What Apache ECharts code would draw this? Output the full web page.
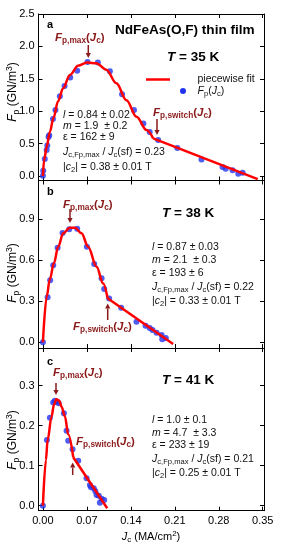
<!DOCTYPE html>
<html><head><meta charset="utf-8">
<script src="https://cdn.jsdelivr.net/npm/echarts@6/dist/echarts.min.js"></script>
<style>html,body{margin:0;padding:0;background:#fff}#c{width:282px;height:550px}</style>
</head><body><div id="c"></div>
<script>
// ---------- data ----------
const xTicks = [0, 0.07, 0.14, 0.21, 0.28, 0.35];
const yTicksA = [0, 0.5, 1.0, 1.5, 2.0, 2.5];
const yTicksB = [0, 0.3, 0.6, 0.9];
const yTicksC = [0, 0.1, 0.2, 0.3];

// Panel a, T = 35 K
const jcA = [0, 0.0005, 0.003, 0.006, 0.007, 0.009, 0.010, 0.016, 0.020, 0.027, 0.0345, 0.0435, 0.0546, 0.071, 0.0875, 0.1066, 0.126, 0.145, 0.160, 0.170, 0.1835, 0.214, 0.2525, 0.286, 0.291, 0.302, 0.311, 0.318];
const fpA = [0.005, 0.08, 0.26, 0.40, 0.47, 0.60, 0.63, 0.88, 1.02, 1.23, 1.39, 1.52, 1.625, 1.76, 1.75, 1.615, 1.26, 1.02, 0.81, 0.68, 0.555, 0.43, 0.255, 0.14, 0.11, 0.09, 0.035, 0.05];
const fitCurveJcA = [0, 0.002, 0.006, 0.011, 0.017, 0.024, 0.032, 0.043, 0.056, 0.0705, 0.085, 0.101, 0.117, 0.133, 0.149, 0.165, 0.1755];
const fitCurveFpA = [0, 0.25, 0.45, 0.68, 0.90, 1.15, 1.35, 1.56, 1.70, 1.75, 1.74, 1.64, 1.43, 1.17, 0.915, 0.71, 0.58];
const fitLineJcA = [0.1755, 0.342];
const fitLineFpA = [0.58, -0.05];

// Panel b, T = 38 K
const jcB = [0, 0.0075, 0.0116, 0.0164, 0.0234, 0.0313, 0.0419, 0.0546, 0.070, 0.0817, 0.0934, 0.0976, 0.1055, 0.1246, 0.149, 0.1634, 0.170, 0.1745, 0.181, 0.189, 0.190, 0.1957];
const fpB = [0, 0.33, 0.454, 0.563, 0.692, 0.80, 0.827, 0.831, 0.70, 0.573, 0.468, 0.39, 0.32, 0.253, 0.151, 0.121, 0.105, 0.09, 0.07, 0.053, 0.022, 0.031];
const fitCurveJcB = [0, 0.006, 0.011, 0.0175, 0.0244, 0.0323, 0.043, 0.051, 0.0615, 0.072, 0.0854, 0.096, 0.103];
const fitCurveFpB = [0, 0.334, 0.46, 0.578, 0.70, 0.797, 0.838, 0.838, 0.797, 0.70, 0.553, 0.43, 0.322];
const fitLineJcB = [0.103, 0.2073];
const fitLineFpB = [0.322, -0.012];

// Panel c, T = 41 K
const jcC = [0, 0.0064, 0.0111, 0.0164, 0.019, 0.0228, 0.025, 0.0334, 0.0377, 0.0403, 0.0472, 0.0562, 0.0695, 0.0748, 0.0765, 0.081, 0.0835, 0.0854, 0.089, 0.0907, 0.0934, 0.0976];
const fpC = [0, 0.164, 0.22, 0.258, 0.262, 0.26, 0.256, 0.231, 0.1875, 0.1625, 0.141, 0.1125, 0.0685, 0.052, 0.046, 0.0435, 0.036, 0.027, 0.025, 0.0075, 0.0175, 0.014];
const fitCurveJcC = [0, 0.0048, 0.0075, 0.0138, 0.0175, 0.0215, 0.026, 0.0297, 0.035, 0.0403, 0.0483];
const fitCurveFpC = [0, 0.114, 0.164, 0.2225, 0.252, 0.266, 0.2625, 0.2475, 0.2235, 0.1785, 0.121];
const fitLineJcC = [0.0483, 0.1024];
const fitLineFpC = [0.121, -0.0065];

// ---------- layout / style ----------
const FF = '"Liberation Sans", Arial, sans-serif';
const DR = '#8b1a1a';
const RED = '#ff0000';
const BLUE = '#2233ee';
const zip = (a, b) => a.map((v, i) => [v, b[i]]);

const grids = [
  {left: 38.5, top: 14, width: 225.5, height: 166.5},
  {left: 38.5, top: 180.5, width: 225.5, height: 167.5},
  {left: 38.5, top: 348, width: 225.5, height: 162.7}
];
const yRanges = [[-0.07, 2.5], [-0.042, 1.184], [-0.0125, 0.394]];
const yTicks = [yTicksA, yTicksB, yTicksC];
const panels = [
  {jc: jcA, fp: fpA, cj: fitCurveJcA, cf: fitCurveFpA, lj: fitLineJcA, lf: fitLineFpA},
  {jc: jcB, fp: fpB, cj: fitCurveJcB, cf: fitCurveFpB, lj: fitLineJcB, lf: fitLineFpB},
  {jc: jcC, fp: fpC, cj: fitCurveJcC, cf: fitCurveFpC, lj: fitLineJcC, lf: fitLineFpC}
];

const xAxes = [], yAxes = [], series = [];
const lineStyle = {color: '#000', width: 1};
panels.forEach((p, i) => {
  [ 'bottom', 'top' ].forEach(pos => {
    xAxes.push({
      gridIndex: i, type: 'value', position: pos, min: -0.007, max: 0.352,
      axisLine: {show: true, onZero: false, lineStyle},
      axisTick: {show: true, inside: true, length: 4, lineStyle, customValues: xTicks},
      axisLabel: {show: pos === 'bottom' && i === 2, customValues: xTicks, margin: 5,
        formatter: v => v.toFixed(2), color: '#000', fontSize: 11, fontFamily: FF},
      splitLine: {show: false}
    });
  });
  [ 'left', 'right' ].forEach(pos => {
    yAxes.push({
      gridIndex: i, type: 'value', position: pos, min: yRanges[i][0], max: yRanges[i][1],
      axisLine: {show: true, onZero: false, lineStyle},
      axisTick: {show: true, inside: true, length: 4, lineStyle, customValues: yTicks[i]},
      axisLabel: {show: pos === 'left', customValues: yTicks[i], margin: 4,
        formatter: v => v.toFixed(1), color: '#000', fontSize: 11, fontFamily: FF},
      splitLine: {show: false}
    });
  });
  series.push({
    type: 'scatter', xAxisIndex: i * 2, yAxisIndex: i * 2, data: zip(p.jc, p.fp),
    symbolSize: 6, itemStyle: {color: BLUE}, z: 2, silent: true
  });
  series.push({
    type: 'line', xAxisIndex: i * 2, yAxisIndex: i * 2, data: zip(p.cj, p.cf),
    smooth: 0.35, smoothMonotone: 'x', showSymbol: false, lineStyle: {color: RED, width: 2.5}, z: 3, silent: true
  });
  series.push({
    type: 'line', xAxisIndex: i * 2, yAxisIndex: i * 2, data: zip(p.lj, p.lf),
    showSymbol: false, lineStyle: {color: RED, width: 2.5}, z: 3, silent: true
  });
});

// ---------- text helpers ----------
function rich(fs, color, weight) {
  const base = {fontSize: fs, fontFamily: FF, fill: color, color: color, fontWeight: weight || 'normal', lineHeight: fs + 2};
  const sfs = Math.round(fs * 0.72 * 10) / 10;
  return {
    n: Object.assign({}, base),
    i: Object.assign({}, base, {fontStyle: 'italic'}),
    s: Object.assign({}, base, {fontSize: sfs, lineHeight: sfs + 1, padding: [fs * 0.55, 0, 0, 0]}),
    u: Object.assign({}, base, {fontSize: sfs, lineHeight: sfs + 1, padding: [0, 0, fs * 0.55, 0]})
  };
}
function T(x, y, text, fs, color, opts) {
  opts = opts || {};
  return {
    type: 'text', x: x, y: y, rotation: opts.rot || 0, z: 10, silent: true,
    style: {
      text: text, rich: rich(fs, color, opts.weight), fontSize: fs, fontFamily: FF,
      fill: color, fontWeight: opts.weight || 'normal',
      align: opts.align || 'left', verticalAlign: 'middle'
    }
  };
}
function arrow(x, y1, y2) {
  const dir = y2 > y1 ? 1 : -1;
  const hl = 5, hw = 2.6;
  return [
    {type: 'line', z: 10, silent: true, shape: {x1: x, y1: y1, x2: x, y2: y2 - dir * hl}, style: {stroke: DR, lineWidth: 1.5}},
    {type: 'polygon', z: 10, silent: true, shape: {points: [[x - hw, y2 - dir * hl], [x + hw, y2 - dir * hl], [x, y2]]}, style: {fill: DR}}
  ];
}
const FMAX = '{i|F}{s|p,max}{n|(}{i|J}{s|c}{n|)}';
const FSW = '{i|F}{s|p,switch}{n|(}{i|J}{s|c}{n|)}';
const YNAME = '{i|F}{s|p}{n| (GN/m}{u|3}{n|)}';
const XNAME = '{i|J}{s|c}{n| (MA/cm}{u|2}{n|)}';

function block(x, ys, vals) {
  const lines = [
    '{i|l}{n| = ' + vals[0] + '}',
    '{i|m}{n| = ' + vals[1] + '}',
    '{n|ε = ' + vals[2] + '}',
    '{i|J}{s|c,Fp,max}{n| / }{i|J}{s|c}{n|(sf) = ' + vals[3] + '}',
    '{n||}{i|c}{s|2}{n|| = ' + vals[4] + '}'
  ];
  return lines.map((l, k) => T(x, ys[k], l, 10.5, '#111'));
}

const graphic = [].concat(
  // panel letters
  T(47, 25, '{n|a}', 11, '#000', {weight: 'bold'}),
  T(47, 191.5, '{n|b}', 11, '#000', {weight: 'bold'}),
  T(47, 362, '{n|c}', 11, '#000', {weight: 'bold'}),
  // title
  T(115, 30, '{n|NdFeAs(O,F) thin film}', 13.6, '#000', {weight: 'bold'}),
  // temperatures
  T(167, 57.5, '{i|T}{n| = 35 K}', 13.5, '#000', {weight: 'bold'}),
  T(162, 213, '{i|T}{n| = 38 K}', 13.5, '#000', {weight: 'bold'}),
  T(162, 380, '{i|T}{n| = 41 K}', 13.5, '#000', {weight: 'bold'}),
  // legend
  [{type: 'line', z: 10, silent: true, shape: {x1: 146, y1: 79.5, x2: 170, y2: 79.5}, style: {stroke: RED, lineWidth: 2.5}},
   {type: 'circle', z: 10, silent: true, shape: {cx: 183, cy: 91, r: 3}, style: {fill: BLUE}}],
  T(197.5, 79.5, '{n|piecewise fit}', 10.5, '#111'),
  T(197.5, 91, '{i|F}{s|p}{n|(}{i|J}{s|c}{n|)}', 10.5, '#111'),
  // annotations
  T(55, 38, FMAX, 11.5, DR, {weight: 'bold'}), arrow(88.3, 45, 58),
  T(153, 112.5, FSW, 11.5, DR, {weight: 'bold'}), arrow(157, 119, 135),
  T(63, 204.5, FMAX, 11.5, DR, {weight: 'bold'}), arrow(70, 209, 223),
  T(73, 326.5, FSW, 11.5, DR, {weight: 'bold'}), arrow(107.7, 320, 303.5),
  T(53, 373, FMAX, 11.5, DR, {weight: 'bold'}), arrow(56, 383, 395),
  T(76, 441.5, FSW, 11.5, DR, {weight: 'bold'}), arrow(72.7, 475, 462.5),
  // parameter blocks
  block(63, [115, 126.3, 137.5, 152.5, 167], ['0.84 ± 0.02', '1.9  ± 0.2', '162 ± 9', '0.23', '0.38 ± 0.01 T']),
  block(152, [246.7, 260, 273.3, 286.7, 300.7], ['0.87 ± 0.03', '2.1  ± 0.3', '193 ± 6', '0.22', '0.33 ± 0.01 T']),
  block(152, [420, 432.7, 445, 459.3, 472.7], ['1.0 ± 0.1', '4.7  ± 3.3', '233 ± 19', '0.21', '0.25 ± 0.01 T']),
  // axis names
  T(13, 92, YNAME, 12, '#000', {rot: Math.PI / 2, align: 'center'}),
  T(13, 273, YNAME, 12, '#000', {rot: Math.PI / 2, align: 'center'}),
  T(13, 440, YNAME, 12, '#000', {rot: Math.PI / 2, align: 'center'}),
  T(151, 536.5, XNAME, 11, '#000', {align: 'center'})
);

const chart = echarts.init(document.getElementById('c'), null, {renderer: 'canvas'});
chart.setOption({
  animation: false,
  backgroundColor: '#fff',
  grid: grids,
  xAxis: xAxes,
  yAxis: yAxes,
  series: series,
  graphic: graphic
});
</script></body></html>
